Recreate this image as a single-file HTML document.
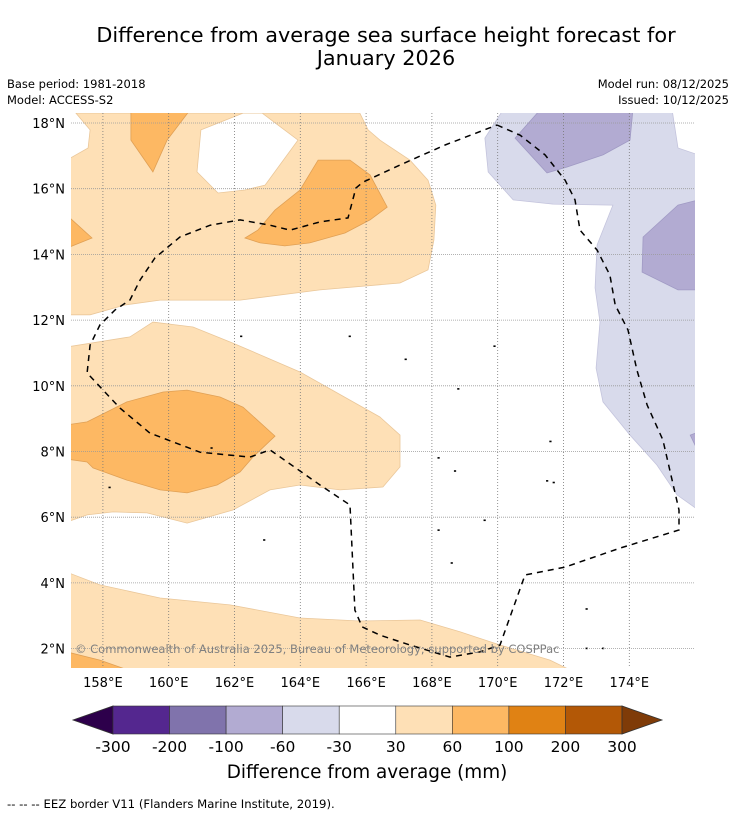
<!DOCTYPE html>
<html><head><meta charset="utf-8">
<style>
html,body{margin:0;padding:0;background:#fff;}
body{width:736px;height:816px;position:relative;overflow:hidden;font-family:"DejaVu Sans","Liberation Sans",sans-serif;}
svg{position:absolute;left:0;top:0;font-family:"DejaVu Sans","Liberation Sans",sans-serif;}
</style></head>
<body>
<svg id="chart" width="736" height="816" viewBox="0 0 736 816">
  <defs><clipPath id="mapclip"><rect x="71" y="113" width="624" height="555"/></clipPath></defs>
  <text x="386" y="42" text-anchor="middle" font-size="20.8" fill="#000">Difference from average sea surface height forecast for</text>
  <text x="386" y="65" text-anchor="middle" font-size="20.8" fill="#000">January 2026</text>
  <text x="7" y="88" font-size="11.5">Base period: 1981-2018</text>
  <text x="7" y="104" font-size="11.5">Model: ACCESS-S2</text>
  <text x="729" y="88" font-size="11.5" text-anchor="end">Model run: 08/12/2025</text>
  <text x="729" y="104" font-size="11.5" text-anchor="end">Issued: 10/12/2025</text>
  <g id="map" clip-path="url(#mapclip)"></g>
  <g id="grid"></g>
  <g id="eez" clip-path="url(#mapclip)"></g>
  <g id="axes"></g>
  <text x="75" y="653" font-size="11.5" fill="#808080">© Commonwealth of Australia 2025, Bureau of Meteorology; supported by COSPPac</text>
  <g id="cbar"></g>
  <text x="367" y="778" text-anchor="middle" font-size="18.4">Difference from average (mm)</text>
  <text x="7" y="808" font-size="11.7">--  --  -- EEZ border V11 (Flanders Marine Institute, 2019).</text>
</svg>
<script>
const lonTicks=[158,160,162,164,166,168,170,172,174];
const latTicks=[2,4,6,8,10,12,14,16,18];
const cbLevels=["-300","-200","-100","-60","-30","30","60","100","200","300"];
const cbColors=["#54278f","#8073ac","#b2abd2","#d8daeb","#ffffff","#fee0b6","#fdb863","#e08214","#b35806"];
const lightOrange=[[157.18,18.3],[165.81,18.3],[166.06,17.79],[166.42,17.48],[167.33,16.87],[167.88,16.26],[168.12,15.5],[168.06,14.44],[167.88,13.53],[167.03,13.13],[164.6,12.92],[162.17,12.61],[159.74,12.61],[158.67,12.46],[157.61,12.16],[156.9,12.16],[156.9,16.87],[157.55,17.24],[157.61,17.79]];
const whiteHole=[[162.26,18.3],[162.84,18.3],[163.93,17.48],[162.93,16.11],[162.32,15.96],[161.5,15.87],[160.86,16.51],[160.98,17.79]];
const darkTop=[[158.85,18.4],[160.65,18.4],[159.95,17.48],[159.52,16.51],[158.85,17.48]];
const darkLeft=[[156.9,15.2],[157.67,14.5],[156.9,14.19]];
const darkMid=[[162.32,14.5],[162.71,14.74],[163.23,15.35],[163.99,15.96],[164.54,16.87],[165.51,16.87],[166.12,16.42],[166.64,15.44],[166.12,15.05],[165.36,14.65],[164.29,14.35],[163.53,14.26],[162.78,14.35]];
const purpleLight=[[170.16,18.4],[169.61,17.54],[169.71,16.51],[170.47,15.66],[171.68,15.53],[173.5,15.5],[173.02,14.29],[172.96,12.98],[173.11,11.94],[172.99,10.54],[173.2,9.51],[174.02,8.5],[174.84,7.59],[175.45,6.68],[176.1,6.22],[176.1,17.03],[175.48,17.24],[175.3,18.4]];
const purpleTop=[[171.29,18.4],[174.11,18.4],[174.02,17.48],[173.2,17.03],[172.11,16.66],[171.5,16.48],[170.53,17.54]];
const purpleRight=[[176.1,15.66],[175.48,15.5],[174.42,14.53],[174.39,13.46],[175.48,12.92],[176.1,12.92]];
const purpleSmall=[[175.85,8.5],[176.1,8.59],[176.1,7.98]];
const midLight=[[156.9,11.18],[158.82,11.49],[159.52,11.94],[160.74,11.79],[161.95,11.3],[163.99,10.42],[164.81,9.96],[166.42,9.05],[167.03,8.5],[167.03,7.53],[166.51,6.92],[165.21,6.83],[163.99,6.98],[163.08,6.83],[161.95,6.22],[160.56,5.82],[159.34,6.13],[158.31,6.16],[157.52,6.07],[156.9,5.85]];
const midDark=[[156.9,8.81],[157.52,8.9],[158.73,9.51],[159.83,9.81],[160.56,9.87],[161.56,9.66],[162.26,9.35],[163.23,8.47],[162.56,7.83],[162.17,7.38],[161.47,6.98],[160.56,6.74],[159.74,6.83],[158.73,7.13],[157.7,7.5],[157.52,7.68],[156.9,7.77]];
const bottomLight=[[156.9,4.33],[157.91,3.94],[159.74,3.54],[161.86,3.33],[163.99,2.93],[165.81,2.84],[167.64,2.87],[168.85,2.51],[170.07,2.11],[171.59,1.65],[172.3,1.3],[156.9,1.3]];
const bottomDark=[[156.9,1.9],[157.91,1.65],[158.9,1.3],[156.9,1.3]];
const eezLine=[[169.98,17.94],[170.68,17.63],[171.44,17.03],[172.05,16.26],[172.35,15.66],[172.5,14.74],[173.02,14.13],[173.41,13.37],[173.57,12.46],[173.96,11.7],[174.23,10.48],[174.54,9.42],[175.02,8.35],[175.3,7.13],[175.51,6.22],[175.51,5.61],[173.72,5.06],[172.05,4.48],[170.83,4.24],[170.07,2.11],[169.46,1.9],[168.55,1.74],[167.33,2.11],[166.42,2.41],[165.88,2.66],[165.66,3.17],[165.51,6.37],[164.6,6.98],[163.08,8.05],[162.47,7.83],[160.95,7.98],[159.43,8.56],[158.52,9.32],[157.52,10.39],[157.61,11.24],[157.91,11.85],[158.37,12.31],[158.82,12.61],[159.13,13.22],[159.58,13.89],[160.34,14.53],[161.26,14.89],[162.17,15.05],[163.08,14.89],[163.69,14.74],[164.6,14.99],[165.45,15.11],[165.69,16.02],[165.91,16.2],[167.03,16.72],[168.4,17.33],[169.98,17.94]];
const islands=[[158.2,6.9],[162.9,5.3],[167.2,10.8],[168.2,5.6],[168.6,4.6],[169.6,5.9],[171.5,7.1],[171.7,7.05],[168.7,7.4],[172.7,2.0],[173.2,2.0],[172.7,3.2],[161.3,8.1],[168.8,9.9],[169.9,11.2],[162.2,11.5],[165.5,11.5],[171.6,8.3],[168.2,7.8]];

const NS='http://www.w3.org/2000/svg';
const X=lon=>70+(lon-157)*32.9;
const Y=lat=>123+(18-lat)*32.85;
function mk(tag,parent,attrs){const e=document.createElementNS(NS,tag);for(const k in attrs)e.setAttribute(k,attrs[k]);parent.appendChild(e);return e;}
const ptsStr=a=>a.map(p=>X(p[0]).toFixed(1)+','+Y(p[1]).toFixed(1)).join(' ');
const map=document.getElementById('map');
function poly(a,fill,stroke,name){const e=mk('polygon',map,{points:ptsStr(a),fill:fill,stroke:stroke,'stroke-width':0.8});

}
poly(lightOrange,'#fee0b6','#eac79a','contour-30-60-north');
poly(whiteHole,'#ffffff','#eac79a','contour-below-30-north');
poly(darkTop,'#fdb863','#e0a055','contour-60-100-top');
poly(darkLeft,'#fdb863','#e0a055','contour-60-100-left');
poly(darkMid,'#fdb863','#e0a055','contour-60-100-mid');
poly(purpleLight,'#d8daeb','#c4c4dd','contour-neg30-neg60');
poly(purpleTop,'#b2abd2','#a09ac4','contour-neg60-neg100-top');
poly(purpleRight,'#b2abd2','#a09ac4','contour-neg60-neg100-right');
poly(purpleSmall,'#b2abd2','#a09ac4','contour-neg60-neg100-small');
poly(midLight,'#fee0b6','#eac79a','contour-30-60-mid');
poly(midDark,'#fdb863','#e0a055','contour-60-100-central');
poly(bottomLight,'#fee0b6','#eac79a','contour-30-60-south');
poly(bottomDark,'#fdb863','#e0a055','contour-60-100-south');
islands.forEach(p=>{const e=mk('rect',map,{x:X(p[0])-1,y:Y(p[1])-1,width:2.2,height:1.6,fill:'#000'});

});
const grid=document.getElementById('grid');
lonTicks.forEach(l=>{const e=mk('line',grid,{x1:X(l),x2:X(l),y1:113,y2:668,stroke:'#777','stroke-width':0.8,'stroke-dasharray':'1,2'});

});
latTicks.forEach(l=>{const e=mk('line',grid,{x1:71,x2:695,y1:Y(l),y2:Y(l),stroke:'#999','stroke-width':0.8,'stroke-dasharray':'1,1'});

});
const eez=document.getElementById('eez');
const pl=mk('polyline',eez,{points:ptsStr(eezLine),fill:'none',stroke:'#000','stroke-width':1.5,'stroke-dasharray':'6,5'});


const axes=document.getElementById('axes');
lonTicks.forEach(l=>{const t=mk('text',axes,{x:X(l),y:687,'text-anchor':'middle','font-size':13});t.textContent=l+'°E';

});
latTicks.forEach(l=>{const t=mk('text',axes,{x:65,y:Y(l)+5,'text-anchor':'end','font-size':13});t.textContent=l+'°N';

});
const cb=document.getElementById('cbar');
const cx0=113,cw=509/cbColors.length,cy=706,ch=28;
const la=mk('polygon',cb,{points:`${cx0},${cy} ${cx0},${cy+ch} 73,${cy+ch/2}`,fill:'#2d004b',stroke:'#333','stroke-width':0.8});


cbColors.forEach((c,i)=>{const r=mk('rect',cb,{x:cx0+i*cw,y:cy,width:cw,height:ch,fill:c,stroke:'#333','stroke-width':0.6});

});
const xe=cx0+cbColors.length*cw;
const ra=mk('polygon',cb,{points:`${xe},${cy} ${xe},${cy+ch} 662,${cy+ch/2}`,fill:'#7f3b08',stroke:'#333','stroke-width':0.8});


cbLevels.forEach((s,i)=>{const t=mk('text',cb,{x:cx0+i*cw,y:752,'text-anchor':'middle','font-size':15.5});t.textContent=s;

});
</script>
</body></html>
